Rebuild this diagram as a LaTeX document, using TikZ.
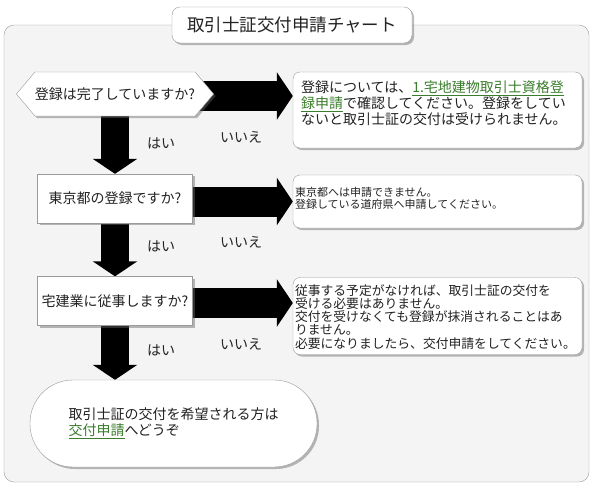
\documentclass[tikz,border=0pt]{standalone}
\usepackage{fontspec}
\setmainfont{Noto Sans CJK JP}
\usepackage{tikz}
\usetikzlibrary{positioning,arrows.meta,shapes.symbols,shadows,backgrounds}
\definecolor{panelgray}{HTML}{F4F4F4}
\definecolor{linegray}{HTML}{9A9A9A}
\definecolor{txtgray}{HTML}{222222}
\definecolor{linkgreen}{HTML}{3A7D2C}
\newcommand{\weblink}[1]{\textcolor{linkgreen}{\underline{#1}}}
\newcommand{\fs}[2]{\fontsize{#1pt}{#2pt}\selectfont}

\begin{document}
\begin{tikzpicture}[x=1pt, y=-1pt,
  shadowed/.style={drop shadow={shadow xshift=2pt, shadow yshift=-2pt, fill=black!60, opacity=0.45}},
  panelbox/.style={draw=linegray, fill=panelgray, rounded corners=10pt, minimum width=585pt, minimum height=457pt},
  titlebox/.style={draw=linegray, fill=white, rounded corners=8pt, shadowed, minimum width=240pt, minimum height=36pt, font=\fs{17.5}{20}, text=txtgray},
  qhex/.style={signal, signal to=west and east, signal pointer angle=100, draw=linegray, fill=white, shadowed, minimum width=195pt, minimum height=44pt, inner sep=0pt, font=\fs{14}{16}, text=txtgray},
  qbox/.style={draw=linegray, fill=white, shadowed, minimum width=155pt, minimum height=49pt, inner sep=0pt, font=\fs{14}{16}, text=txtgray},
  ansbox/.style={draw=linegray, fill=white, rounded corners=7pt, shadowed, minimum width=289pt, inner sep=0pt},
  anstext/.style={anchor=north west, inner sep=0pt, align=left, text=txtgray},
  termbox/.style={draw=linegray, fill=white, rounded corners=43pt, shadowed, minimum width=287pt, minimum height=87pt, align=left, font=\fs{14}{16}, text=txtgray},
  downarrow/.style={draw=black, line width=28pt, -{Triangle[length=15pt, width=44pt]}},
  rightarrow/.style={draw=black, line width=30pt, -{Triangle[length=16pt, width=47pt]}},
  lbl/.style={font=\fs{14}{16}, text=txtgray, inner sep=0pt}
]
\useasboundingbox (0,0) rectangle (594,488);

% questions
\node[qhex] (q1) at (115,94) {登録は完了していますか?};
\node[qbox] (q2) at (115,198.5) {東京都の登録ですか?};
\node[qbox] (q3) at (115,301) {宅建業に従事しますか?};
\node[termbox] (term) at (173.5,423.5) {取引士証の交付を希望される方は\\ \weblink{交付申請}へどうぞ};

% answers
\node[ansbox, minimum height=76pt] (ans1) at (437.5,110) {};
\node[anstext, font=\fs{14}{16}] (ans1t) at ([xshift=8pt, yshift=-9pt]ans1.north west)
  {登録については、\weblink{1.宅地建物取引士資格登}\\
   \weblink{録申請}で確認してください。登録をしてい\\
   ないと取引士証の交付は受けられません。};
\node[ansbox, minimum height=53pt] (ans2) at (437.5,201.5) {};
\node[anstext, font=\fs{11}{12.5}] (ans2t) at ([xshift=2pt, yshift=-12pt]ans2.north west)
  {東京都へは申請できません。\\
   登録している道府県へ申請してください。};
\node[ansbox, minimum height=77pt] (ans3) at (437.5,316) {};
\node[anstext, font=\fs{12.8}{13.2}] (ans3t) at ([xshift=2pt, yshift=-7pt]ans3.north west)
  {従事する予定がなければ、取引士証の交付を\\
   受ける必要はありません。\\
   交付を受けなくても登録が抹消されることはあ\\
   りません。\\
   必要になりましたら、交付申請をしてください。};

\node[titlebox] (title) at (292,25) {取引士証交付申請チャート};

\coordinate (q1r) at ([yshift=-2pt]q1.center);
\coordinate (q2r) at ([yshift=-3pt]q2.center);
\coordinate (q3r) at ([yshift=-2pt]q3.center);

\begin{scope}[on background layer]
\node[panelbox] (panel) at (296.5,253.5) {};
\draw[downarrow] (q1.center) -- (q2.north) node[lbl, pos=0.62, anchor=west, xshift=18pt] {はい};
\draw[downarrow] (q2.center) -- (q3.north) node[lbl, pos=0.62, anchor=west, xshift=18pt] {はい};
\draw[downarrow] (q3.center) -- (q3.center |- term.north) node[lbl, pos=0.62, anchor=west, xshift=18pt] {はい};
\draw[rightarrow] (q1r) -- (q1r -| ans1.west) node[lbl, pos=0.71, anchor=north, yshift=-20pt] {いいえ};
\draw[rightarrow] (q2r) -- (q2r -| ans2.west) node[lbl, pos=0.71, anchor=north, yshift=-20pt] {いいえ};
\draw[rightarrow] (q3r) -- (q3r -| ans3.west) node[lbl, pos=0.71, anchor=north, yshift=-20pt] {いいえ};
\end{scope}

\end{tikzpicture}
\end{document}
